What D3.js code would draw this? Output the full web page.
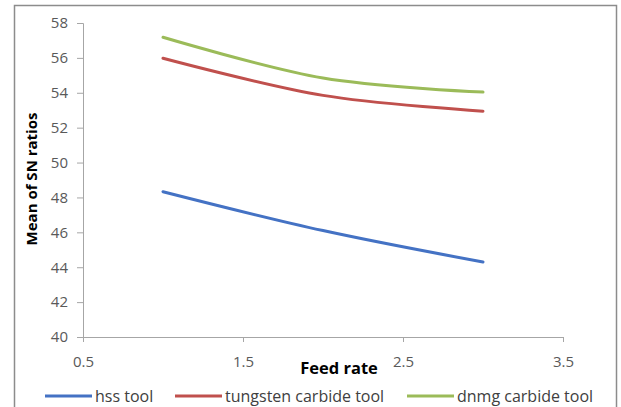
<!DOCTYPE html>
<html><head><meta charset="utf-8">
<script src="https://cdn.jsdelivr.net/npm/d3@7"></script>
<style>body{margin:0;background:#fff}svg{display:block}</style>
</head><body>
<script>
const feedRates = [1, 2, 3];
const hssTool = [48.33, 46.1, 44.3];
const tungstenCarbide = [55.98, 53.85, 52.94];
const dnmgCarbide = [57.18, 54.85, 54.04];
const seriesNames = ["hss tool", "tungsten carbide tool", "dnmg carbide tool"];
const seriesColors = ["#4472c4", "#c0504d", "#9bbb59"];
const xTicks = [0.5, 1.5, 2.5, 3.5];
const yTicks = [40, 42, 44, 46, 48, 50, 52, 54, 56, 58];

const W = 621, H = 407;
const svg = d3.select("body").append("svg").attr("width", W).attr("height", H);
svg.append("rect").attr("x", 14.5).attr("y", 5.5).attr("width", 602).attr("height", 410)
  .attr("fill", "#fff").attr("stroke", "#8c8c8c").attr("stroke-width", 1.5);

const x = d3.scaleLinear().domain([0.5, 3.5]).range([83, 563]);
const y = d3.scaleLinear().domain([40, 58]).range([337, 23]);
const font = "'Open Sans', 'Liberation Sans', sans-serif";

const yAxis = svg.append("g").attr("transform", "translate(83,0)")
  .call(d3.axisLeft(y).tickValues(yTicks).tickSize(6).tickPadding(9).tickFormat(d3.format("d")));
const xAxis = svg.append("g").attr("transform", "translate(0,337)")
  .call(d3.axisBottom(x).tickValues(xTicks).tickSize(5).tickPadding(14).tickFormat(d3.format(".1f")));
[yAxis, xAxis].forEach(g => {
  g.select(".domain").attr("stroke", "#a6a6a6").attr("stroke-width", 1);
  g.selectAll(".tick line").attr("stroke", "#a6a6a6");
  g.selectAll(".tick text").attr("fill", "#595959").style("font-family", font).style("font-size", "15px");
});

const series = [hssTool, tungstenCarbide, dnmgCarbide];
const line = d3.line().x((d, i) => x(feedRates[i])).y(d => y(d)).curve(d3.curveCatmullRom.alpha(0.5));
series.forEach((s, k) => {
  svg.append("path").datum(s).attr("d", line).attr("fill", "none")
    .attr("stroke", seriesColors[k]).attr("stroke-width", 3).attr("stroke-linecap", "round");
});

svg.append("text").attr("x", 339).attr("y", 374).attr("text-anchor", "middle")
  .style("font-family", font).style("font-size", "16.5px").style("font-weight", "bold").attr("fill", "#000")
  .text("Feed rate");
svg.append("text").attr("transform", "translate(37,179) rotate(-90)").attr("text-anchor", "middle")
  .style("font-family", font).style("font-size", "15px").style("font-weight", "bold").attr("fill", "#000")
  .text("Mean of SN ratios");

const legX = [45, 175, 407];
seriesNames.forEach((n, k) => {
  svg.append("line").attr("x1", legX[k]).attr("x2", legX[k] + 47).attr("y1", 396).attr("y2", 396)
    .attr("stroke", seriesColors[k]).attr("stroke-width", 3);
  svg.append("text").attr("x", legX[k] + 50).attr("y", 401.5)
    .style("font-family", font).style("font-size", "16px").attr("fill", "#404040").text(n);
});
</script>
</body></html>
